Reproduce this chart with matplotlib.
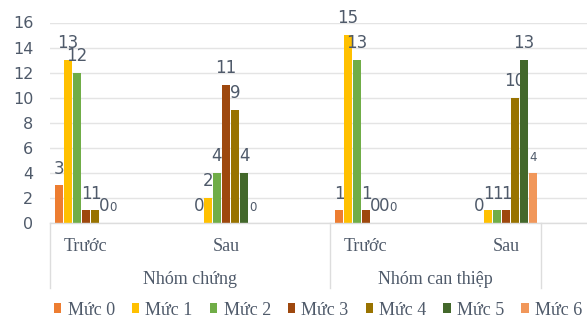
import matplotlib
matplotlib.use("Agg")
import matplotlib.pyplot as plt
from matplotlib.patches import Patch
import numpy as np

# data
groups = ["Nhóm chứng", "Nhóm can thiệp"]
phases = ["Trước", "Sau", "Trước", "Sau"]
series = ["Mức 0", "Mức 1", "Mức 2", "Mức 3", "Mức 4", "Mức 5", "Mức 6"]
muc0 = [3, 0, 1, 0]
muc1 = [13, 2, 15, 1]
muc2 = [12, 4, 13, 1]
muc3 = [1, 11, 1, 1]
muc4 = [1, 9, 0, 10]
muc5 = [0, 4, 0, 13]
muc6 = [0, 0, 0, 4]
values = [muc0, muc1, muc2, muc3, muc4, muc5, muc6]

colors = ["#ED7D31", "#FFC000", "#70AD47", "#9E480E", "#997300", "#43682B", "#F1975A"]
txt = "#4F5A6A"
serif = "Liberation Serif"

fig = plt.figure(figsize=(5.87, 3.2), dpi=100)
ax = fig.add_axes([50 / 587, 97 / 320, 537 / 587, 200.5 / 320])

slot = 9 / 140
bw = 0.054
x = np.arange(len(phases))
for i, (name, vals) in enumerate(zip(series, values)):
    pos = x + (i - 3) * slot
    ax.bar(pos, vals, width=bw, color=colors[i], zorder=3)
    fs = 8.5 if i == 6 else 12
    for p, v in zip(pos, vals):
        ax.annotate(str(v), (p, v), xytext=(0, 8.5), textcoords="offset points",
                    ha="center", va="baseline", fontsize=fs, color=txt)

ax.set_xlim(-36 / 140, 501 / 140)
ax.set_ylim(0, 16)
ax.set_yticks(range(0, 17, 2))
ax.grid(axis="y", color="#E4E4E4", linewidth=1, zorder=0)
for s in ax.spines.values():
    s.set_visible(False)
ax.tick_params(axis="y", length=0, pad=12, labelsize=11.5, labelcolor=txt)

ax.set_xticks(x)
ax.set_xticklabels(phases, fontfamily=serif, fontsize=13, color=txt)
ax.tick_params(axis="x", length=0, pad=11)

# separators for the grouped category axis
trans = ax.get_xaxis_transform()
for sx in [-36 / 140, 1.743, 3.25]:
    ax.plot([sx, sx], [0, -0.325], transform=trans, color="#DDDDDD",
            linewidth=1, clip_on=False)
ax.plot([-36 / 140, 501 / 140], [0, 0], transform=trans, color="#DDDDDD",
        linewidth=1, clip_on=False, zorder=4)

for gx, g in zip([0.743, 2.4965], groups):
    ax.text(gx, -0.28, g, transform=trans, ha="center", va="center",
            fontfamily=serif, fontsize=13, color=txt)

handles = [Patch(facecolor=c, label=s) for c, s in zip(colors, series)]
fig.legend(handles=handles, loc="center", bbox_to_anchor=(0.542, 0.031), ncol=7,
           frameon=False, prop={"family": serif, "size": 13}, labelcolor=txt,
           handlelength=0.42, handleheight=0.42, handletextpad=0.35,
           columnspacing=0.93, borderaxespad=0, borderpad=0)

fig.savefig("out.png", dpi=100)
